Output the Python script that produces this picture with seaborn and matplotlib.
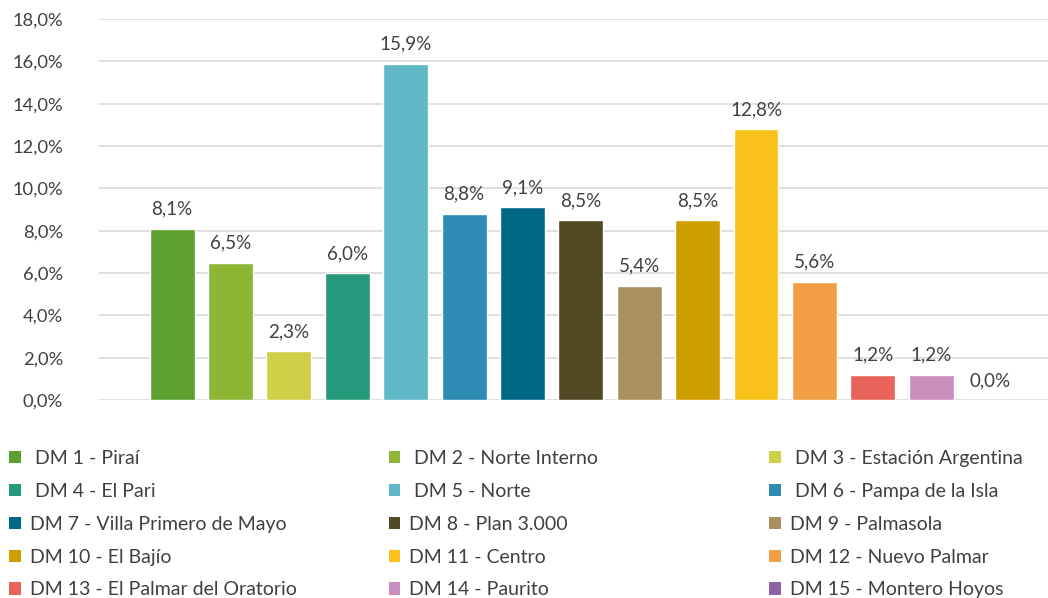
"""
Distribución porcentual por Distrito Municipal (DM) - bar chart recreation.
"""

import matplotlib
matplotlib.use("Agg")
import matplotlib.pyplot as plt
import matplotlib.ticker as mticker
from matplotlib.patches import Patch
import pandas as pd
import seaborn as sns

# ─── Data ───────────────────────────────────────────────────────────────────
districts = [
    "DM 1 - Piraí", "DM 2 - Norte Interno", "DM 3 - Estación Argentina",
    "DM 4 - El Pari", "DM 5 - Norte", "DM 6 - Pampa de la Isla",
    "DM 7 - Villa Primero de Mayo", "DM 8 - Plan 3.000", "DM 9 - Palmasola",
    "DM 10 - El Bajío", "DM 11 - Centro", "DM 12 - Nuevo Palmar",
    "DM 13 - El Palmar del Oratorio", "DM 14 - Paurito", "DM 15 - Montero Hoyos",
]
shares = [8.1, 6.5, 2.3, 6.0, 15.9, 8.8, 9.1, 8.5, 5.4, 8.5, 12.8, 5.6, 1.2, 1.2, 0.0]
colors = [
    "#5EA02F", "#8DB635", "#CFD04A", "#259A7A", "#5FB7C7",
    "#2E8BB4", "#006A85", "#524A24", "#A8915F", "#CF9F00",
    "#F9C21A", "#F29E44", "#E8635A", "#C98EBE", "#8D63A6",
]
y_ticks = [0, 2, 4, 6, 8, 10, 12, 14, 16, 18]

sns.set_theme(style="white")
plt.rcParams["font.family"] = ["Lato", "DejaVu Sans"]

TEXT = "#404040"


def pct(v):
    return f"{v:.1f}%".replace(".", ",")


df = pd.DataFrame({"DM": districts, "Share": shares})

fig = plt.figure(figsize=(10.48, 5.98), dpi=100)
ax = fig.add_axes([0.0945, 0.331, 0.9055, 0.637])

sns.barplot(data=df, x="DM", y="Share", hue="DM", palette=colors,
            order=districts, hue_order=districts, dodge=False,
            width=0.77, saturation=1, legend=False, ax=ax)

# data labels
for patch, v in zip(ax.patches, shares):
    ax.annotate(pct(v), (patch.get_x() + patch.get_width() / 2, v),
                xytext=(0, 8), textcoords="offset points",
                ha="center", va="bottom", fontsize=13.5, color=TEXT)

ax.set_xlim(-1.25, 15.0)
ax.set_ylim(0, 18)
ax.set_yticks(y_ticks)
ax.yaxis.set_major_formatter(mticker.FuncFormatter(lambda v, _: pct(v)))
ax.tick_params(axis="y", labelsize=13.2, labelcolor=TEXT, length=0, pad=26)
ax.set_xticks([])
ax.set_xlabel("")
ax.set_ylabel("")
ax.grid(axis="y", color="#D9D9D9", linewidth=1.2)
ax.set_axisbelow(True)
for s in ax.spines.values():
    s.set_visible(False)

# legend: three columns, filled row-wise like the original
handles = [Patch(facecolor=c, edgecolor="none") for c in colors]
labels = [(" " + d if i < 6 else d) for i, d in enumerate(districts)]
col_x = [0.009, 0.371, 0.734]
for col in range(3):
    idx = list(range(col, 15, 3))
    fig.legend([handles[i] for i in idx], [labels[i] for i in idx],
               loc="upper left", bbox_to_anchor=(col_x[col], 0.248),
               frameon=False, fontsize=14, labelcolor=TEXT,
               handlelength=0.6, handleheight=0.6, handletextpad=0.45,
               labelspacing=0.82, borderaxespad=0, borderpad=0)

fig.savefig("out.png", dpi=100)
